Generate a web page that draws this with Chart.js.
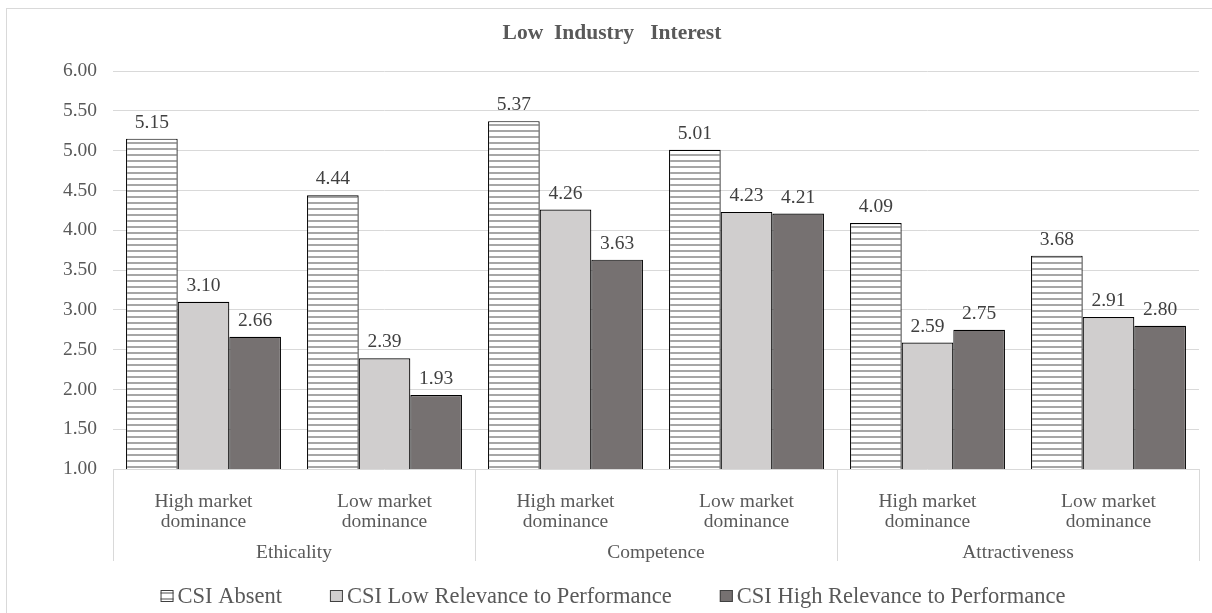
<!DOCTYPE html>
<html>
<head>
<meta charset="utf-8">
<script src="https://cdn.jsdelivr.net/npm/chart.js@4/dist/chart.umd.min.js"></script>
<style>
  html, body { margin: 0; padding: 0; background: #fff; overflow: hidden; }
  #frame { position: absolute; left: 6px; top: 8px; width: 1230px; height: 700px; border: 1px solid #d9d9d9; }
  #wrap { position: absolute; left: 0; top: 0; width: 1212px; height: 613px; }
</style>
</head>
<body>
<div id="frame"></div>
<div id="wrap"><canvas id="chart"></canvas></div>
<script>
// Chart data
const subCategories = [
    ['High market', 'dominance'], ['Low market', 'dominance'],
    ['High market', 'dominance'], ['Low market', 'dominance'],
    ['High market', 'dominance'], ['Low market', 'dominance']
];
const groups = ['Ethicality', 'Competence', 'Attractiveness'];
const seriesNames = ['CSI Absent', 'CSI Low Relevance to Performance', 'CSI High Relevance to Performance'];
const csiAbsent = [5.15, 4.44, 5.37, 5.01, 4.09, 3.68];
const csiLow = [3.10, 2.39, 4.26, 4.23, 2.59, 2.91];
const csiHigh = [2.66, 1.93, 3.63, 4.21, 2.75, 2.80];
const yTicks = [1.0, 1.5, 2.0, 2.5, 3.0, 3.5, 4.0, 4.5, 5.0, 5.5, 6.0];
const chartTitle = 'Low  Industry   Interest';

const FONT = "'Liberation Serif', 'Times New Roman', serif";
const TEXT = '#595959';
const GRID = '#d9d9d9';

const ctx = document.getElementById('chart').getContext('2d');

// horizontal stripe fill for the "CSI Absent" bars
function stripes() {
    const c = document.createElement('canvas');
    c.width = 8;
    c.height = 6;
    const g = c.getContext('2d');
    g.fillStyle = '#ffffff';
    g.fillRect(0, 0, 8, 6);
    g.fillStyle = '#a6a6a6';
    g.fillRect(0, 4, 8, 2);
    return ctx.createPattern(c, 'repeat');
}

const fills = [stripes(), '#d0cece', '#767171'];

// value labels above each bar
const valueLabels = {
    id: 'valueLabels',
    afterDatasetsDraw(chart) {
        const c = chart.ctx;
        c.save();
        c.font = '19.5px ' + FONT;
        c.fillStyle = '#404040';
        c.textAlign = 'center';
        c.textBaseline = 'middle';
        chart.data.datasets.forEach((ds, i) => {
            chart.getDatasetMeta(i).data.forEach((bar, j) => {
                c.fillText(ds.data[j].toFixed(2), bar.x, bar.y - 16);
            });
        });
        c.restore();
    }
};

// title, group labels, dividers and the legend
const extras = {
    id: 'extras',
    afterDraw(chart) {
        const c = chart.ctx;
        const x = chart.scales.x;
        const area = chart.chartArea;
        const w = (x.right - x.left) / subCategories.length;
        c.save();

        c.font = 'bold 21.5px ' + FONT;
        c.fillStyle = TEXT;
        c.textAlign = 'center';
        c.textBaseline = 'middle';
        c.fillText(chartTitle, 612, 33);

        c.strokeStyle = GRID;
        c.lineWidth = 1;
        for (let g = 0; g <= groups.length; g++) {
            const px = Math.round(x.left + g * 2 * w) + 0.5;
            c.beginPath();
            c.moveTo(px, area.bottom);
            c.lineTo(px, 561);
            c.stroke();
        }
        c.font = '19.5px ' + FONT;
        groups.forEach((name, g) => {
            c.fillText(name, x.left + (g * 2 + 1) * w, 553);
        });

        // legend
        c.font = '22.5px ' + FONT;
        c.textAlign = 'left';
        const box = 13, gapBox = 4, gapItem = 48;
        const widths = seriesNames.map(n => box + gapBox + c.measureText(n).width);
        const total = widths.reduce((a, b) => a + b, 0) + gapItem * (widths.length - 1);
        let lx = 613 - total / 2;
        const ly = 596;
        chart.data.datasets.forEach((ds, i) => {
            c.fillStyle = ds.backgroundColor;
            c.fillRect(lx, ly - 6, box, 12);
            c.strokeStyle = '#404040';
            c.strokeRect(lx + 0.5, ly - 5.5, box - 1, 11);
            c.fillStyle = TEXT;
            c.fillText(ds.label, lx + box + gapBox, ly + 1);
            lx += widths[i] + gapItem;
        });
        c.restore();
    }
};

new Chart(ctx, {
    type: 'bar',
    data: {
        labels: subCategories,
        datasets: [csiAbsent, csiLow, csiHigh].map((d, i) => ({
            label: seriesNames[i],
            data: d,
            backgroundColor: fills[i],
            borderColor: '#000000',
            borderWidth: 1.2,
            borderSkipped: 'bottom',
            categoryPercentage: 0.856,
            barPercentage: 1.0
        }))
    },
    options: {
        responsive: true,
        maintainAspectRatio: false,
        animation: false,
        events: [],
        layout: { padding: { left: 0, right: 13, top: 71, bottom: 44 } },
        scales: {
            x: {
                grid: { display: false },
                border: { display: false },
                ticks: {
                    color: TEXT,
                    font: { family: FONT, size: 19.5, lineHeight: 1.03 },
                    padding: 15,
                    maxRotation: 0,
                    autoSkip: false
                },
                afterFit(scale) { scale.height = 100; }
            },
            y: {
                min: 1,
                max: 6,
                afterBuildTicks(scale) { scale.ticks = yTicks.map(v => ({ value: v })); },
                grid: { color: GRID, drawTicks: false },
                border: { display: false },
                ticks: {
                    color: TEXT,
                    font: { family: FONT, size: 19.5 },
                    padding: 16,
                    callback: v => v.toFixed(2)
                },
                afterFit(scale) { scale.width = 113; }
            }
        },
        plugins: {
            legend: { display: false },
            tooltip: { enabled: false },
            title: { display: false }
        }
    },
    plugins: [valueLabels, extras]
});
</script>
</body>
</html>
